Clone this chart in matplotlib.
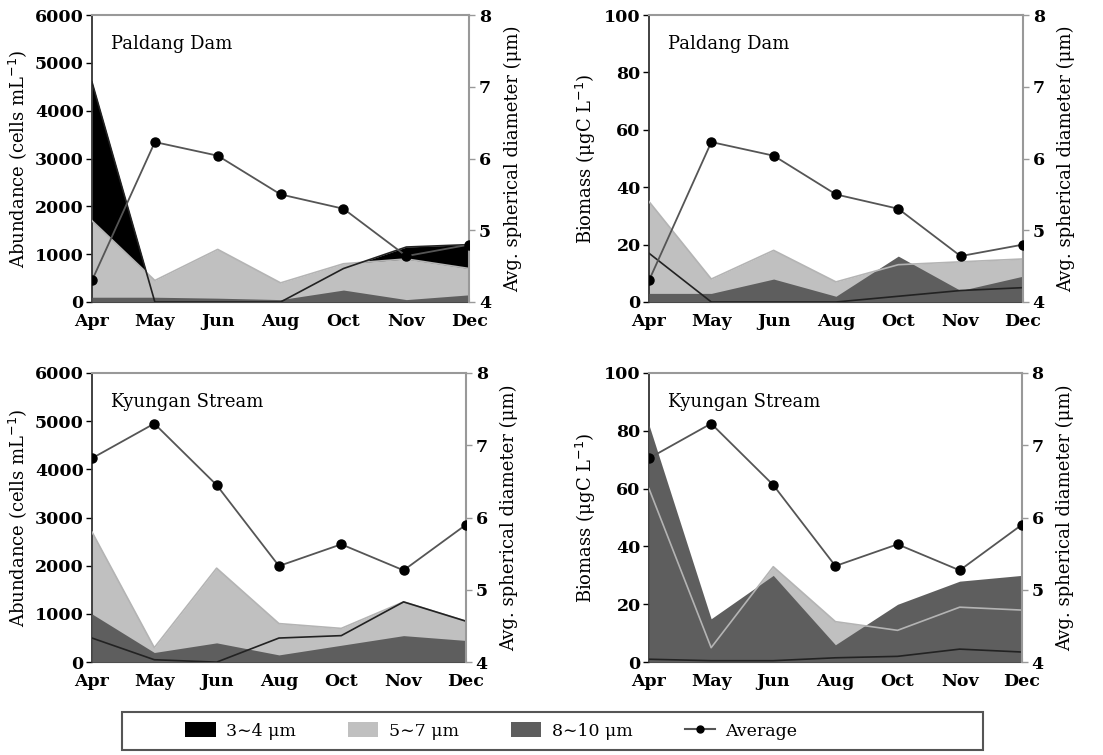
import numpy as np
import matplotlib
matplotlib.use("Agg")
import matplotlib.pyplot as plt
from matplotlib.patches import Patch, Rectangle
from matplotlib.lines import Line2D

plt.rcParams['font.family'] = ['DejaVu Serif', 'DejaVu Sans']

months = ["Apr", "May", "Jun", "Aug", "Oct", "Nov", "Dec"]

# Paldang Dam - abundance (cells/mL)
pd_ab_s34 = [4600, 0, 0, 0, 700, 1150, 1200]
pd_ab_s57 = [1700, 450, 1100, 400, 800, 900, 700]
pd_ab_s810 = [100, 100, 80, 50, 250, 50, 150]
# Paldang Dam - biomass (ugC/L)
pd_bm_s34 = [17, 0, 0, 0, 2, 4, 5]
pd_bm_s57 = [35, 8, 18, 7, 13, 14, 15]
pd_bm_s810 = [3, 3, 8, 2, 16, 4, 9]
# Paldang Dam - average diameter (um)
pd_avg = [4.3, 6.23, 6.04, 5.5, 5.3, 4.64, 4.8]

# Kyungan Stream - abundance
ks_ab_s34 = [500, 50, 0, 500, 550, 1250, 850]
ks_ab_s57 = [2700, 300, 1950, 800, 700, 1250, 850]
ks_ab_s810 = [1000, 200, 400, 150, 350, 550, 450]
# Kyungan Stream - biomass
ks_bm_s34 = [1, 0.5, 0.5, 1.5, 2, 4.5, 3.5]
ks_bm_s57 = [60, 5, 33, 14, 11, 19, 18]
ks_bm_s810 = [82, 15, 30, 6, 20, 28, 30]
# Kyungan Stream - average diameter
ks_avg = [6.82, 7.3, 6.45, 5.33, 5.63, 5.27, 5.9]

c_black = "#000000"
c_light = "#c0c0c0"
c_dark = "#5e5e5e"

fig = plt.figure(figsize=(11.03, 7.55), dpi=100)

def panel(rect, s34, s57, s810, avg, ymax, ystep, ylabel, title):
    ax = fig.add_axes(rect)
    x = np.arange(len(months))
    ax.fill_between(x, 0, s34, color=c_black, lw=0, zorder=1)
    ax.fill_between(x, 0, s57, color=c_light, lw=0, zorder=2)
    ax.fill_between(x, 0, s810, color=c_dark, lw=0, zorder=3)
    ax.plot(x, s57, color="#b4b4b4", lw=1.2, zorder=4)
    ax.plot(x, s34, color="#222222", lw=1.2, zorder=5)
    ax.set_xlim(0, len(months) - 1)
    ax.set_ylim(0, ymax)
    ax.set_yticks(np.arange(0, ymax + 1, ystep))
    ax.set_xticks(x)
    ax.set_xticklabels(months)
    ax.set_ylabel(ylabel, fontsize=13, labelpad=4)
    ax.tick_params(axis='y', labelsize=12.5, length=4, width=1, pad=2)
    ax.tick_params(axis='x', labelsize=12.5, direction='in', length=3, colors="#aaaaaa",
                   labelcolor='black', pad=8)
    for lab in ax.get_yticklabels():
        lab.set_fontweight('bold')
    for lab in ax.get_xticklabels():
        lab.set_fontweight('semibold')
    ax.spines['top'].set_color("#999999")
    ax.spines['top'].set_linewidth(1.5)
    ax.spines['right'].set_visible(False)
    ax.spines['left'].set_color("#333333")
    ax.spines['left'].set_linewidth(1.3)
    ax.spines['bottom'].set_color("#333333")
    ax.text(0.05, 0.9, title, transform=ax.transAxes, fontsize=13, va='center', zorder=10)

    ax2 = ax.twinx()
    ax2.plot(x, avg, color="#555555", lw=1.3, marker='o', markersize=6.5,
             markerfacecolor='black', markeredgecolor='black', zorder=6)
    ax2.set_ylim(4, 8)
    ax2.set_yticks([4, 5, 6, 7, 8])
    ax2.set_ylabel("Avg. spherical diameter (μm)", fontsize=13, labelpad=9)
    ax2.tick_params(axis='y', labelsize=12.5, length=4, width=1, colors="#999999",
                    labelcolor='black', pad=3)
    for lab in ax2.get_yticklabels():
        lab.set_fontweight('bold')
    ax2.spines['right'].set_color("#999999")
    ax2.spines['right'].set_linewidth(1.5)
    for s in ['top', 'left', 'bottom']:
        ax2.spines[s].set_visible(False)
    return ax, ax2

panel([0.0834, 0.600, 0.3420, 0.380], pd_ab_s34, pd_ab_s57, pd_ab_s810, pd_avg,
      6000, 1000, "Abundance (cells mL$^{-1}$)", "Paldang Dam")
panel([0.5884, 0.600, 0.3390, 0.380], pd_bm_s34, pd_bm_s57, pd_bm_s810, pd_avg,
      100, 20, "Biomass (μgC L$^{-1}$)", "Paldang Dam")
panel([0.0834, 0.123, 0.3390, 0.383], ks_ab_s34, ks_ab_s57, ks_ab_s810, ks_avg,
      6000, 1000, "Abundance (cells mL$^{-1}$)", "Kyungan Stream")
panel([0.5884, 0.123, 0.3380, 0.383], ks_bm_s34, ks_bm_s57, ks_bm_s810, ks_avg,
      100, 20, "Biomass (μgC L$^{-1}$)", "Kyungan Stream")

# legend box
fig.patches.append(Rectangle((0.1106, 0.0066), 0.7806, 0.0503, transform=fig.transFigure,
                             fill=False, edgecolor="#555555", lw=1.5))

handles = [Patch(facecolor=c_black, edgecolor='none'),
           Patch(facecolor=c_light, edgecolor='none'),
           Patch(facecolor=c_dark, edgecolor='none'),
           Line2D([0], [0], color="#555555", lw=1.5, marker='o', markersize=5,
                  markerfacecolor='black', markeredgecolor='black')]
labels = ["3∼4 μm", "5∼7 μm", "8∼10 μm", "Average"]
leg = fig.legend(handles, labels, loc='center left', bbox_to_anchor=(0.168, 0.0318), ncol=4,
                 fontsize=12.5, frameon=False, columnspacing=3.0,
                 handlelength=1.75, handleheight=0.9, borderpad=0, borderaxespad=0,
                 handletextpad=0.6)

fig.savefig("out.png", dpi=100)
